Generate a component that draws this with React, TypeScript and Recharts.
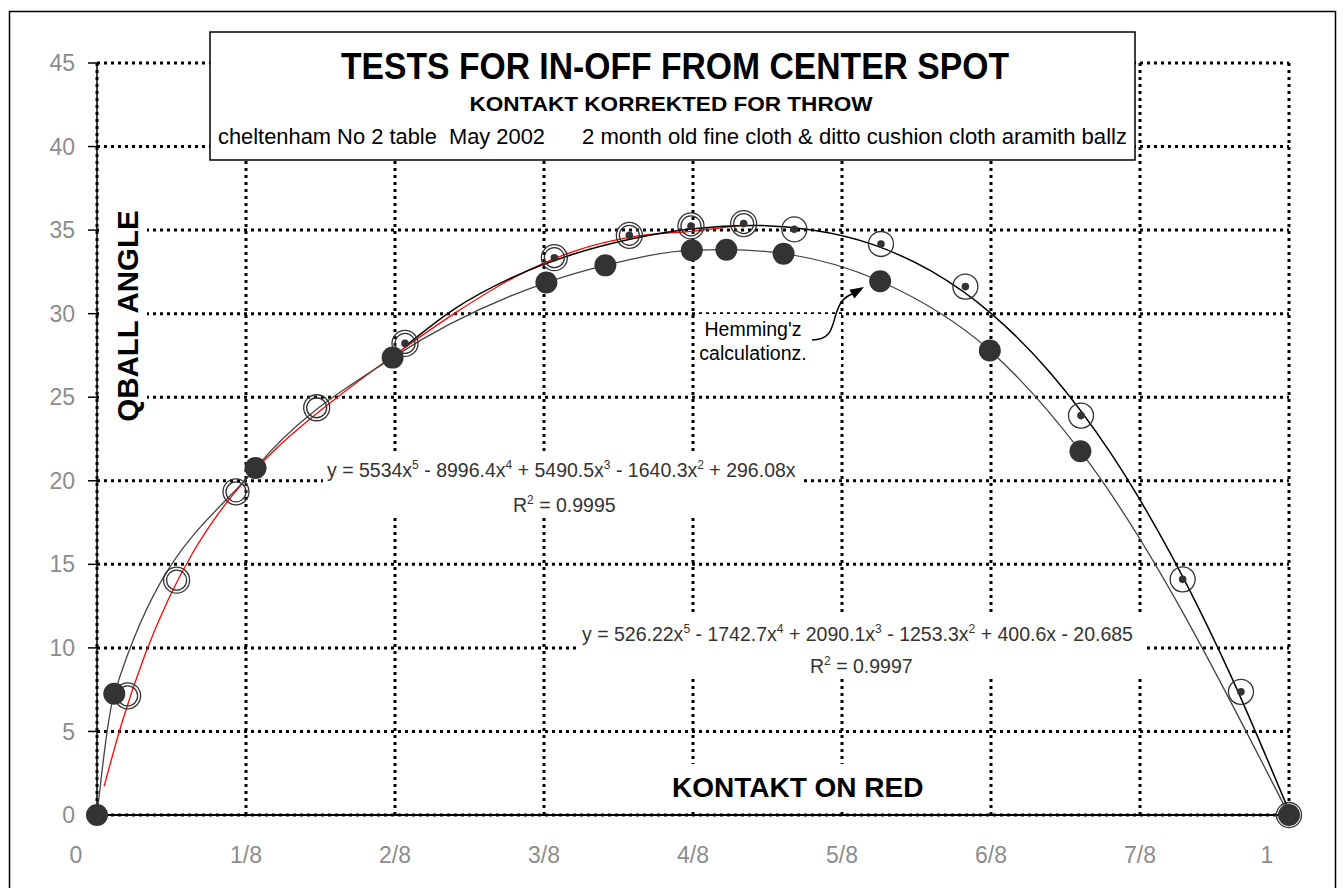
import React from 'react';
import { ComposedChart, Line, Scatter, XAxis, YAxis, CartesianGrid } from 'recharts';

const FONT = '"Liberation Sans", Arial, Helvetica, sans-serif';

const contactTicks = [0, 0.125, 0.25, 0.375, 0.5, 0.625, 0.75, 0.875, 1];
const contactTickLabels = ['0', '1/8', '2/8', '3/8', '4/8', '5/8', '6/8', '7/8', '1'];
const angleTicks = [0, 5, 10, 15, 20, 25, 30, 35, 40, 45];

// Hemming'z calculationz (filled dots, smoothed line)
const hemmingContact = [0, 0.0145, 0.133, 0.248, 0.377, 0.4265, 0.499, 0.528, 0.576, 0.657, 0.749, 0.825, 1];
const hemmingAngle = [0, 7.25, 20.76, 27.37, 31.86, 32.89, 33.79, 33.83, 33.59, 31.94, 27.8, 21.77, 0];

// tests, first half (double rings)
const testLeftContact = [0.0257, 0.0668, 0.1166, 0.1843, 0.2584, 0.3837, 0.4466, 0.4983, 0.5425];
const testLeftAngle = [7.13, 14.05, 19.34, 24.37, 28.22, 33.35, 34.69, 35.25, 35.39];

// tests, second half (single rings)
const testRightContact = [0.585, 0.6577, 0.7285, 0.8255, 0.9108, 0.9597, 1];
const testRightAngle = [35.05, 34.17, 31.62, 23.9, 14.1, 7.37, 0];

// korrekted points (small dots)
const korrektedContact = [0.2584, 0.3837, 0.4466, 0.4983, 0.5425, 0.585, 0.6577, 0.7285, 0.8255, 0.9108, 0.9597, 1];
const korrektedAngle = [28.22, 33.35, 34.69, 35.25, 35.39, 35.05, 34.17, 31.62, 23.9, 14.1, 7.37, 0];

// red trendline (y = 5534x^5 - 8996.4x^4 + 5490.5x^3 - 1640.3x^2 + 296.08x)
const redTrendContact = [0.006, 0.02, 0.04, 0.06, 0.08, 0.1, 0.125, 0.15, 0.2, 0.25, 0.3, 0.35, 0.4, 0.45, 0.5, 0.543];
const redTrendAngle = [1.72, 5.31, 9.55, 12.93, 15.65, 17.85, 20.08, 21.9, 24.91, 27.55, 30.02, 32.17, 33.73, 34.61, 34.94, 35.31];

// black trendline (y = 526.22x^5 - 1742.7x^4 + 2090.1x^3 - 1253.3x^2 + 400.6x - 20.685)
const blackTrendContact = [0.258, 0.3, 0.35, 0.4, 0.45, 0.5, 0.55, 0.6, 0.65, 0.7, 0.75, 0.8, 0.85, 0.9, 0.95, 1];
const blackTrendAngle = [28.02, 30.29, 32.22, 33.57, 34.5, 35.08, 35.28, 35.01, 34.16, 32.54, 30.02, 26.44, 21.7, 15.71, 8.52, 0.24];

// equation labels: base, superscript, base, ...
const eqRed = ['y = 5534x', '5', ' - 8996.4x', '4', ' + 5490.5x', '3', ' - 1640.3x', '2', ' + 296.08x'];
const eqBlack = ['y = 526.22x', '5', ' - 1742.7x', '4', ' + 2090.1x', '3', ' - 1253.3x', '2', ' + 400.6x - 20.685'];

const zip = (xs: number[], ys: number[]) => xs.map((x, i) => ({ x, y: ys[i] }));

const hemming = zip(hemmingContact, hemmingAngle);
const testLeft = zip(testLeftContact, testLeftAngle);
const testRight = zip(testRightContact, testRightAngle);
const korrekted = zip(korrektedContact, korrektedAngle);
const redTrend = zip(redTrendContact, redTrendAngle);
const blackTrend = zip(blackTrendContact, blackTrendAngle);

const INK = '#333333';

function FilledDot(p: any) {
  return <circle cx={p.cx} cy={p.cy} r={11} fill={INK} />;
}

function DoubleRing(p: any) {
  return (
    <g>
      <circle cx={p.cx} cy={p.cy} r={13} fill="none" stroke={INK} strokeWidth={1.3} />
      <circle cx={p.cx} cy={p.cy} r={10} fill="none" stroke={INK} strokeWidth={1.3} />
    </g>
  );
}

function SingleRing(p: any) {
  return <circle cx={p.cx} cy={p.cy} r={12.5} fill="none" stroke={INK} strokeWidth={1.3} />;
}

function SmallDot(p: any) {
  return <circle cx={p.cx} cy={p.cy} r={3.8} fill={INK} />;
}

function ContactTick(props: any) {
  const { x, y, payload } = props;
  const i = contactTicks.indexOf(payload.value);
  let dx = 0;
  if (i === 0) dx = -21;
  if (i === contactTicks.length - 1) dx = -22;
  return (
    <text x={x + dx} y={y + 48} textAnchor="middle" fill="#8c8c8c" fontSize={23} fontFamily={FONT}>
      {contactTickLabels[i]}
    </text>
  );
}

function Equation({ x, y, parts }: { x: number; y: number; parts: string[] }) {
  return (
    <text x={x} y={y} fontSize={19.5} fill={INK} fontFamily={FONT} style={{ whiteSpace: 'pre' }}>
      {parts.map((p, i) =>
        i % 2 === 0 ? (
          <tspan key={i} dy={i === 0 ? 0 : 8}>{p}</tspan>
        ) : (
          <tspan key={i} dy={-8} fontSize={12}>{p}</tspan>
        )
      )}
    </text>
  );
}

function Annotations() {
  return (
    <svg width={1343} height={888} style={{ position: 'absolute', left: 0, top: 0, pointerEvents: 'none' }}>
      <rect x={9.5} y={11.5} width={1326} height={880} fill="none" stroke="#000" strokeWidth={1.5} />

      {/* title box */}
      <rect x={210} y={32} width={925} height={128} fill="#fff" stroke="#000" strokeWidth={1.5} />
      <text x={675} y={79} textAnchor="middle" fontSize={37} fontWeight="bold" fontFamily={FONT}
        textLength={668} lengthAdjust="spacingAndGlyphs">TESTS FOR IN-OFF FROM CENTER SPOT</text>
      <text x={671} y={111} textAnchor="middle" fontSize={20} fontWeight="bold" fontFamily={FONT}
        textLength={403} lengthAdjust="spacingAndGlyphs">KONTAKT KORREKTED FOR THROW</text>
      <text x={218} y={144} fontSize={21.5} fontFamily={FONT} textLength={327} lengthAdjust="spacingAndGlyphs"
        style={{ whiteSpace: 'pre' }}>
        cheltenham No 2 table  May 2002
      </text>
      <text x={582} y={144} fontSize={21.5} fontFamily={FONT} textLength={545} lengthAdjust="spacingAndGlyphs">
        2 month old fine cloth &amp; ditto cushion cloth aramith ballz
      </text>

      {/* axis titles */}
      <rect x={99} y={205} width={48} height={220} fill="#fff" />
      <text transform="translate(138 316) rotate(-90)" textAnchor="middle" fontSize={29.5} fontWeight="bold" fontFamily={FONT}>
        QBALL ANGLE
      </text>
      <rect x={662} y={764} width={273} height={48} fill="#fff" />
      <text x={672} y={797} fontSize={28} fontWeight="bold" fontFamily={FONT}>KONTAKT ON RED</text>

      {/* trendline equations */}
      <rect x={323} y={451} width={477} height={66} fill="#fff" />
      <Equation x={327} y={477} parts={eqRed} />
      <Equation x={513} y={512} parts={['R', '2', ' = 0.9995']} />

      <rect x={578} y={612} width={565} height={67} fill="#fff" />
      <Equation x={582} y={641} parts={eqBlack} />
      <Equation x={810} y={673} parts={['R', '2', ' = 0.9997']} />

      {/* Hemming note with arrow */}
      <rect x={695} y={314} width={146} height={54} fill="#fff" />
      <text x={753} y={336} textAnchor="middle" fontSize={19.5} fill="#000" fontFamily={FONT}>Hemming'z</text>
      <text x={753} y={360} textAnchor="middle" fontSize={19.5} fill="#000" fontFamily={FONT}>calculationz.</text>
      <path d="M 812 340 C 832 340, 832 326, 836 314 S 843 298, 852 294" fill="none" stroke="#000" strokeWidth={1.5} />
      <polygon points="864,287 849.4,289.7 854.4,298.4" fill="#000" />
    </svg>
  );
}

export default function App() {
  return (
    <div style={{ position: 'absolute', left: 0, top: 0, width: 1343, height: 888, background: '#fff' }}>
      <ComposedChart width={1343} height={888} margin={{ top: 63, right: 54, bottom: 33, left: 37 }}>
        <CartesianGrid stroke="#000" strokeWidth={3} strokeDasharray="3 4" />
        <XAxis
          type="number"
          dataKey="x"
          domain={[0, 1]}
          ticks={contactTicks}
          interval={0}
          height={40}
          tickSize={0}
          tickMargin={0}
          tickLine={false}
          axisLine={{ stroke: '#000', strokeWidth: 2 }}
          tick={<ContactTick />}
        />
        <YAxis
          type="number"
          dataKey="y"
          domain={[0, 45]}
          ticks={angleTicks}
          interval={0}
          width={60}
          tickSize={9}
          tickMargin={13}
          axisLine={{ stroke: '#000', strokeWidth: 1.5 }}
          tickLine={{ stroke: '#000', strokeWidth: 1.5 }}
          tick={{ fill: '#8c8c8c', fontSize: 23, fontFamily: FONT }}
        />
        <Line data={redTrend} dataKey="y" type="monotone" stroke="#ff0000" strokeWidth={1.3} dot={false} activeDot={false} isAnimationActive={false} />
        <Line data={blackTrend} dataKey="y" type="monotone" stroke="#000" strokeWidth={1.5} dot={false} activeDot={false} isAnimationActive={false} />
        <Line data={hemming} dataKey="y" type="monotone" stroke="#444" strokeWidth={1.3} dot={false} activeDot={false} isAnimationActive={false} />
        <Scatter data={testLeft} shape={<DoubleRing />} isAnimationActive={false} />
        <Scatter data={testRight} shape={<SingleRing />} isAnimationActive={false} />
        <Scatter data={korrekted} shape={<SmallDot />} isAnimationActive={false} />
        <Scatter data={hemming} shape={<FilledDot />} isAnimationActive={false} />
      </ComposedChart>
      <Annotations />
    </div>
  );
}
